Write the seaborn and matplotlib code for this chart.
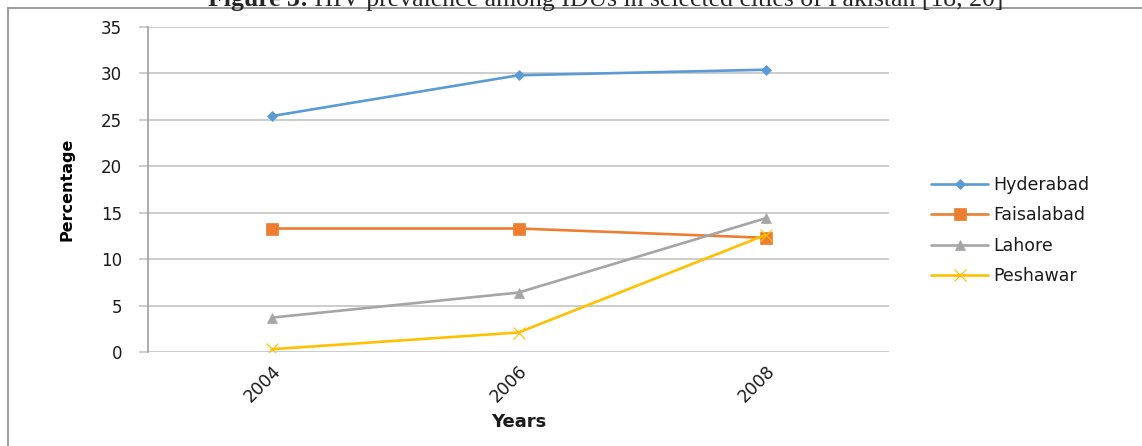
import numpy as np
import pandas as pd
import matplotlib
matplotlib.use("Agg")
import matplotlib.pyplot as plt
import seaborn as sns
from matplotlib.lines import Line2D

# ---- data ----
years = [2004, 2006, 2008]
cities = ["Hyderabad", "Faisalabad", "Lahore", "Peshawar"]
hyderabad = [25.4, 29.8, 30.4]
faisalabad = [13.3, 13.3, 12.3]
lahore = [3.7, 6.4, 14.4]
peshawar = [0.3, 2.1, 12.6]
y_ticks = [0, 5, 10, 15, 20, 25, 30, 35]
x_label = "Years"
y_label = "Percentage"
title_bold = "Figure 3:"
title_rest = " HIV prevalence among IDUs in selected cities of Pakistan [18, 20]"

series = {"Hyderabad": hyderabad, "Faisalabad": faisalabad,
          "Lahore": lahore, "Peshawar": peshawar}
colors = {"Hyderabad": "#5B9BD5", "Faisalabad": "#ED7D31",
          "Lahore": "#A5A5A5", "Peshawar": "#FFC000"}
markers = {"Hyderabad": "D", "Faisalabad": "s", "Lahore": "^", "Peshawar": "x"}
msizes = {"Hyderabad": 5.5, "Faisalabad": 8, "Lahore": 7.5, "Peshawar": 8}
mews = {"Hyderabad": 0.5, "Faisalabad": 0.5, "Lahore": 0.5, "Peshawar": 0.8}

sns.set_theme(style="white")
plt.rcParams["font.family"] = ["DejaVu Sans"]

W, H = 1142, 446
fig = plt.figure(figsize=(W / 100, H / 100), dpi=100)
ax = fig.add_axes([148 / W, 1 - 352 / H, (889 - 148) / W, (352 - 27) / H])

df = pd.DataFrame({
    "Year": np.tile(years, len(cities)),
    "City": np.repeat(cities, len(years)),
    "Value": np.concatenate([series[c] for c in cities]),
})

handles = []
for c in cities:
    sub = df[df["City"] == c]
    sns.lineplot(data=sub, x="Year", y="Value", ax=ax, color=colors[c],
                 marker=markers[c], markersize=msizes[c], linewidth=1.9,
                 markeredgecolor=colors[c], markerfacecolor=colors[c],
                 markeredgewidth=mews[c], label=c, legend=False)
    handles.append(Line2D([], [], color=colors[c], marker=markers[c],
                          markersize=msizes[c], linewidth=1.9,
                          markeredgecolor=colors[c], markerfacecolor=colors[c],
                          markeredgewidth=mews[c]))
if ax.get_legend() is not None:
    ax.get_legend().remove()

ax.set_xlim(2003, 2009)
ax.set_ylim(0, 35)
ax.set_yticks(y_ticks)
ax.set_yticklabels([str(v) for v in y_ticks])
ax.set_xticks(years)
ax.set_xticklabels([str(y) for y in years], rotation=45, ha="right",
                   rotation_mode="anchor")
ax.grid(axis="y", color="#c8c8c8", linewidth=1.3)
ax.grid(axis="x", visible=False)
ax.set_axisbelow(True)
for s in ["top", "right", "bottom"]:
    ax.spines[s].set_visible(False)
ax.spines["left"].set_color("#a6a6a6")
ax.spines["left"].set_linewidth(1.3)
ax.tick_params(axis="y", length=6.5, width=1.3, color="#c8c8c8", pad=12,
               labelsize=12, labelcolor="#1a1a1a", left=True)
ax.tick_params(axis="x", length=0, pad=7, labelsize=12.5, labelcolor="#1a1a1a")

ax.set_xlabel(x_label, fontsize=13, fontweight="bold", color="#1a1a1a")
ax.xaxis.set_label_coords(0.5, -(422 - 352) / (352 - 27))
ax.xaxis.label.set_va("center")
ax.set_ylabel(y_label, fontsize=11.5, fontweight="bold", color="#000000")
ax.yaxis.set_label_coords(-(148 - 75) / (889 - 148), 0.5)

fig.legend(handles=handles, labels=cities, loc="center left",
           bbox_to_anchor=(931 / W, 1 - 230.5 / H), frameon=False,
           fontsize=12.5, handlelength=3.3, handletextpad=0.3,
           labelspacing=0.7, borderpad=0, borderaxespad=0,
           labelcolor="#1a1a1a")

# outer border
fig.add_artist(Line2D([8 / W, 1], [1 - 8 / H, 1 - 8 / H], color="#8c8c8c",
                      linewidth=1.2, transform=fig.transFigure))
fig.add_artist(Line2D([8 / W, 8 / W], [0, 1 - 8 / H], color="#8c8c8c",
                      linewidth=1.2, transform=fig.transFigure))

# title (partially cut off at top, as in the source)
renderer = fig.canvas.get_renderer()
tfam = ["Liberation Serif", "DejaVu Serif"]
ty = 1 - 6 / H
t1 = fig.text(0, ty, title_bold, fontsize=18.5, fontweight="bold", family=tfam,
              va="baseline", ha="left")
t2 = fig.text(0, ty, title_rest, fontsize=18.5, family=tfam,
              va="baseline", ha="left")
w1 = t1.get_window_extent(renderer).width
w2 = t2.get_window_extent(renderer).width
x0 = 606 - (w1 + w2) / 2
t1.set_x(x0 / W)
t2.set_x((x0 + w1) / W)

fig.savefig("out.png", dpi=100)
